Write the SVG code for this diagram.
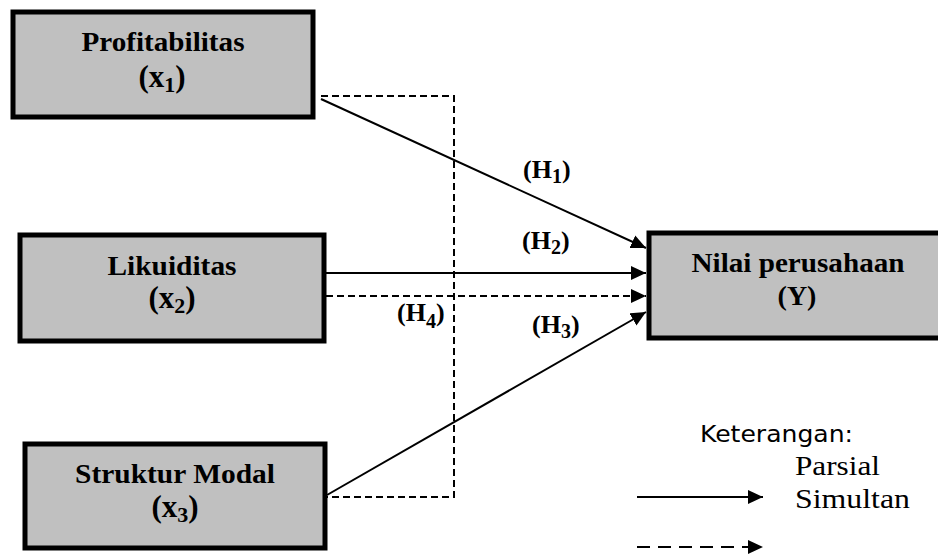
<svg xmlns="http://www.w3.org/2000/svg" width="938" height="556" viewBox="0 0 938 556">
<style>
.box{fill:#c0c0c0;stroke:#000;stroke-width:5;}
.lbl{font-family:"Liberation Serif","Times New Roman",serif;font-weight:bold;font-size:28px;fill:#000;text-anchor:middle;}
.xl{font-size:31px;}
.xs{font-size:22px;}
.h{font-family:"Liberation Serif","Times New Roman",serif;font-weight:bold;font-size:26px;fill:#000;}
.sub{font-size:20px;}
.solid{fill:none;stroke:#000;stroke-width:2;}
.dash{fill:none;stroke:#000;stroke-width:2;stroke-dasharray:7 4;}
.leg{font-family:"Liberation Serif","Times New Roman",serif;font-size:28px;fill:#000;}
.ket{font-family:"DejaVu Sans",Verdana,sans-serif;font-size:23px;fill:#000;}
</style>
<defs>
<marker id="ah" markerUnits="userSpaceOnUse" markerWidth="18" markerHeight="16" refX="15" refY="7" orient="auto">
<path d="M0,0 L15,7 L0,14 Z" fill="#000"/>
</marker>
</defs>
<rect width="938" height="556" fill="#fff"/>
<g id="connectors">
<polyline class="dash" points="321,96 454,96 454,497 327,497"/>
<line class="dash" x1="326" y1="296" x2="646" y2="296" marker-end="url(#ah)"/>
<line class="solid" x1="321" y1="99" x2="646" y2="248" marker-end="url(#ah)"/>
<line class="solid" x1="326" y1="273" x2="646" y2="273" marker-end="url(#ah)"/>
<line class="solid" x1="327" y1="495" x2="646" y2="312" marker-end="url(#ah)"/>
<text class="h" x="523" y="178">(H<tspan class="sub" dy="5">1</tspan><tspan dy="-5">)</tspan></text>
<text class="h" x="522" y="249">(H<tspan class="sub" dy="5">2</tspan><tspan dy="-5">)</tspan></text>
<text class="h" x="397" y="321">(H<tspan class="sub" dy="7">4</tspan><tspan dy="-7">)</tspan></text>
<text class="h" x="532" y="333">(H<tspan class="sub" dy="5">3</tspan><tspan dy="-5">)</tspan></text>
</g>
<g id="n-profitabilitas">
<rect class="box" x="13" y="12" width="300" height="105"/>
<text class="lbl" x="163" y="51" textLength="163" lengthAdjust="spacingAndGlyphs">Profitabilitas</text>
<text class="lbl xl" x="162" y="87">(x<tspan class="xs" dy="5">1</tspan><tspan dy="-5">)</tspan></text>
</g>
<g id="n-likuiditas">
<rect class="box" x="20" y="235" width="304" height="106"/>
<text class="lbl" x="172" y="275" textLength="129" lengthAdjust="spacingAndGlyphs">Likuiditas</text>
<text class="lbl xl" x="172" y="308">(x<tspan class="xs" dy="5">2</tspan><tspan dy="-5">)</tspan></text>
</g>
<g id="n-struktur">
<rect class="box" x="25" y="444" width="300" height="104"/>
<text class="lbl" x="175" y="483" textLength="200" lengthAdjust="spacingAndGlyphs">Struktur Modal</text>
<text class="lbl xl" x="175" y="517">(x<tspan class="xs" dy="5">3</tspan><tspan dy="-5">)</tspan></text>
</g>
<g id="n-nilai">
<rect class="box" x="649" y="233" width="300" height="105"/>
<text class="lbl" x="798" y="272" textLength="213" lengthAdjust="spacingAndGlyphs">Nilai perusahaan</text>
<text class="lbl" x="797" y="305">(Y)</text>
</g>
<g id="legend">
<text class="ket" x="700" y="442" textLength="153" lengthAdjust="spacingAndGlyphs">Keterangan:</text>
<text class="leg" x="795" y="475" textLength="85" lengthAdjust="spacingAndGlyphs">Parsial</text>
<text class="leg" x="795" y="508" textLength="115" lengthAdjust="spacingAndGlyphs">Simultan</text>
<line class="solid" x1="637" y1="497" x2="763" y2="497" marker-end="url(#ah)"/>
<line class="solid" x1="637" y1="547" x2="763" y2="547" stroke-dasharray="13 8" marker-end="url(#ah)"/>
</g>
</svg>
